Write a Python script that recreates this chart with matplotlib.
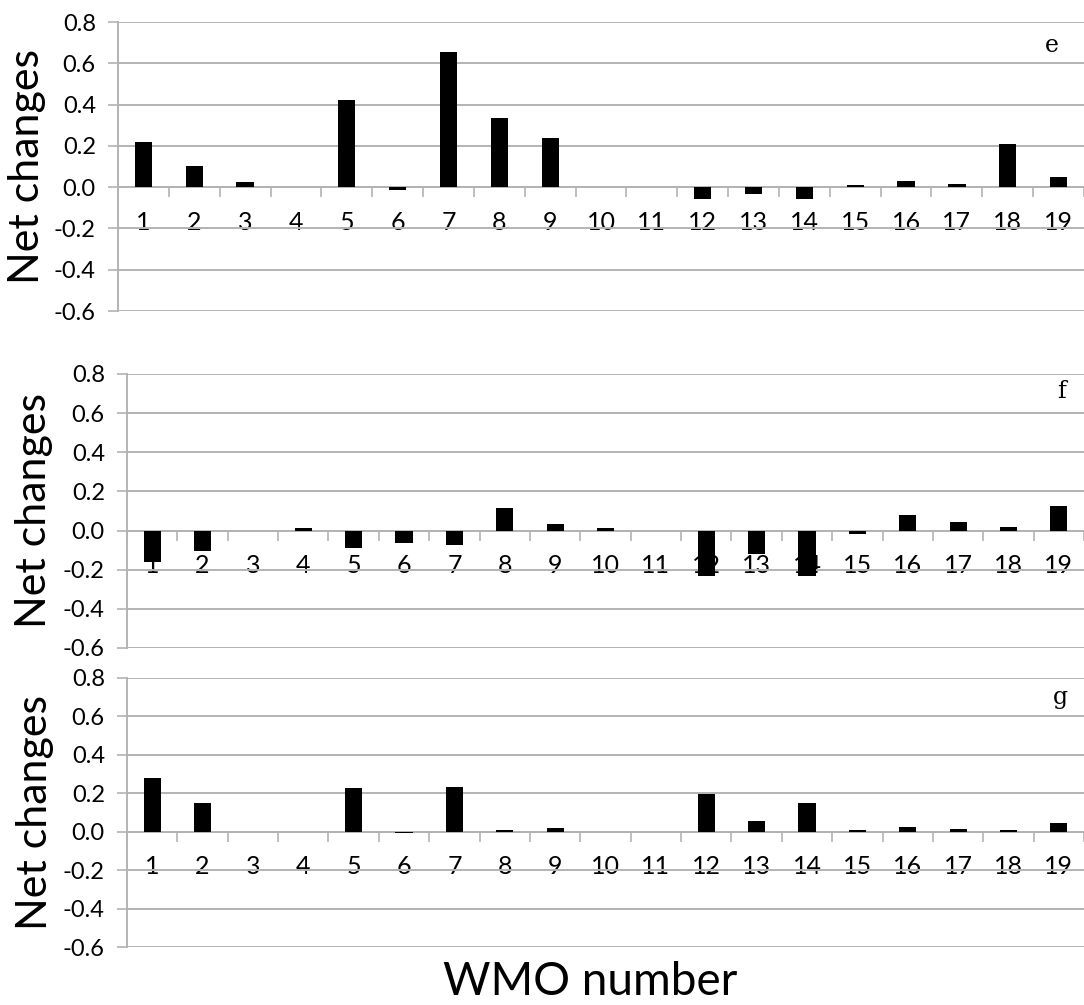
import matplotlib.pyplot as plt
import numpy as np

# WMO numbers 1..19
wmo = list(range(1, 20))

# net changes
net_e = [0.22, 0.103, 0.024, 0.0, 0.42, -0.014, 0.656, 0.333, 0.238, 0.0,
         0.0, -0.058, -0.035, -0.058, 0.008, 0.029, 0.014, 0.209, 0.047]
net_f = [-0.16, -0.103, 0.0, 0.015, -0.09, -0.061, -0.073, 0.115, 0.034, 0.015,
         0.0, -0.23, -0.119, -0.23, -0.019, 0.08, 0.044, 0.02, 0.127]
net_g = [0.282, 0.148, 0.0, 0.0, 0.226, -0.009, 0.233, 0.007, 0.019, 0.0,
         0.0, 0.197, 0.057, 0.148, 0.009, 0.026, 0.014, 0.009, 0.045]

panels = ["e", "f", "g"]
yticks = [-0.6, -0.4, -0.2, 0.0, 0.2, 0.4, 0.6, 0.8]

GRID = "#b3b3b3"
FONT = "Lato"

W, H = 1084, 1005
fig = plt.figure(figsize=(W / 100, H / 100), dpi=100)

# axes boxes in pixels: left, top, right, bottom
boxes = [(118, 22, 1084, 311), (127, 374, 1084, 648), (127, 678, 1084, 947)]
ylab_pos = [(27, 166), (34, 511), (35, 812)]
letter_pos = [(1052, 45), (1062, 392), (1060, 697)]


def make_panel(box, values, letter, lpos, ypos):
    l, t, r, b = box
    ax = fig.add_axes([l / W, 1 - b / H, (r - l) / W, (b - t) / H])
    ax.set_axisbelow(True)

    # x axis sits on zero, as in Excel
    ax.spines["bottom"].set_position(("data", 0))
    ax.spines["bottom"].set_color(GRID)
    ax.spines["bottom"].set_linewidth(1.4)
    ax.spines["left"].set_color(GRID)
    ax.spines["left"].set_linewidth(1.4)
    ax.spines["top"].set_visible(False)
    ax.spines["right"].set_visible(False)

    ax.bar(wmo, values, width=0.34, color="black", zorder=3)
    ax.set_xlim(0.5, 19.5)
    ax.set_ylim(-0.6, 0.8)

    ax.set_yticks(yticks)
    ax.set_yticklabels([f"{v:.1f}" for v in yticks])
    ax.yaxis.grid(True, color=GRID, linewidth=1.4)
    ax.tick_params(axis="y", length=7, color=GRID, width=1.2, pad=9,
                   labelsize=17, labelfontfamily=FONT)

    # category separators as major ticks, labels as minor ticks
    ax.set_xticks(np.arange(0.5, 20.0, 1.0))
    ax.set_xticklabels([])
    ax.set_xticks(wmo, minor=True)
    ax.set_xticklabels([str(w) for w in wmo], minor=True)
    ax.tick_params(axis="x", which="major", direction="out", length=7, color=GRID, width=1.2)
    ax.tick_params(axis="x", which="minor", length=0, pad=17,
                   labelsize=18, labelfontfamily=FONT)

    fig.text(lpos[0] / W, 1 - lpos[1] / H, letter, family="DejaVu Serif",
             fontsize=17, ha="center", va="center")
    fig.text(ypos[0] / W, 1 - ypos[1] / H, "Net changes", family=FONT,
             fontsize=31, rotation=90, ha="center", va="center")
    return ax


for box, vals, letter, lp, yp in zip(boxes, [net_e, net_f, net_g], panels, letter_pos, ylab_pos):
    make_panel(box, vals, letter, lp, yp)

fig.text(590 / W, 1 - 982 / H, "WMO number", family=FONT, fontsize=33,
         ha="center", va="center")

fig.savefig("out.png", dpi=100)
